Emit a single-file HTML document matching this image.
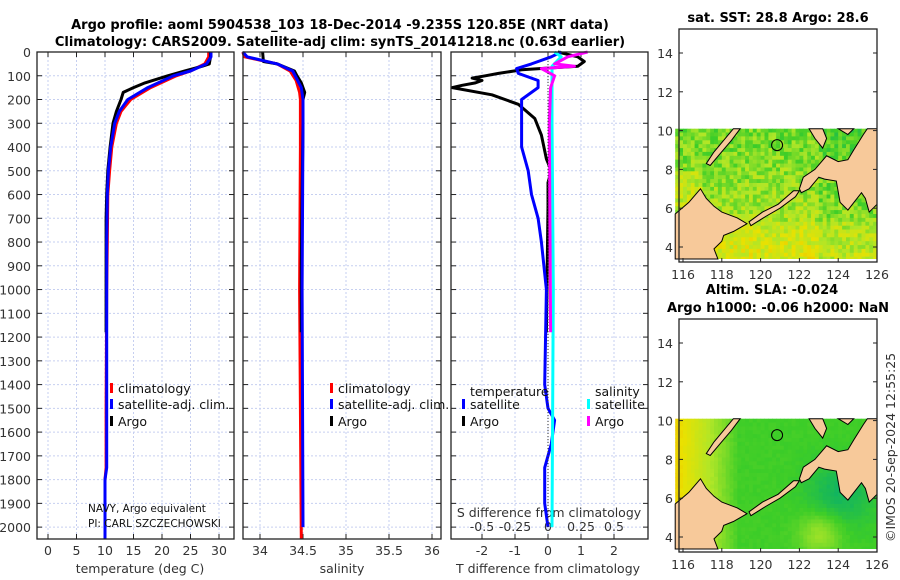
<!DOCTYPE html>
<html><head><meta charset="utf-8"><style>
body{margin:0;background:#fff;}
svg{display:block;font-family:"DejaVu Sans","Liberation Sans",sans-serif;}
.tk{font-size:12.5px;fill:#333;}
.ttl{font-size:13px;font-weight:bold;fill:#000;}
.lg{font-size:12.5px;fill:#111;}
</style></head><body>
<svg id="fig" width="900" height="580" viewBox="0 0 900 580" xmlns="http://www.w3.org/2000/svg">
<text class="ttl" x="340" y="29" text-anchor="middle">Argo profile: aoml 5904538_103 18-Dec-2014 -9.235S 120.85E (NRT data)</text>
<text class="ttl" x="340" y="46" text-anchor="middle">Climatology: CARS2009. Satellite-adj clim: synTS_20141218.nc (0.63d earlier)</text>
<g id="plots"></g>
<text class="ttl" x="778" y="22" text-anchor="middle">sat. SST: 28.8 Argo: 28.6</text>
<text class="ttl" x="772" y="294" text-anchor="middle">Altim. SLA: -0.024</text>
<text class="ttl" x="778" y="312" text-anchor="middle">Argo h1000: -0.06 h2000: NaN</text>
<text class="tk" transform="translate(895,542) rotate(-90)">©IMOS 20-Sep-2024 12:55:25</text>
</svg>
<script>
// ---- data ----
const depthTicks=[0,100,200,300,400,500,600,700,800,900,1000,1100,1200,1300,1400,1500,1600,1700,1800,1900,2000];
const tempTicks=[0,5,10,15,20,25,30];
const salTicks=[34,34.5,35,35.5,36];
const tdiffTicks=[-2,-1,0,1,2];
const sdiffTicks=[-0.5,-0.25,0,0.25,0.5];
const argoDepth=[0,20,50,60,80,100,130,150,170,200,250,300,400,500,600,700,900,1180];
const argoTemp=[28.5,28.5,28.3,27,24,21,17,15,13.2,12.8,12.0,11.4,10.9,10.5,10.3,10.2,10.2,10.2];
const climDepth=[0,20,50,80,100,150,200,250,300,400,500,600,800,1000,1500,1750,1800,2000,2050];
const climTemp=[28.2,28.2,27.5,25,22.5,18,14.5,12.8,12,11.2,10.8,10.5,10.4,10.3,10.2,10.2,10.0,10.0,10.0];
const satTemp=[28.6,28.6,27.8,25,22,17.5,14,12.5,11.7,11,10.6,10.4,10.3,10.3,10.3,10.3,10.0,10.0,10.0];
const argoSalDepth=[0,40,50,80,100,130,170,200,300,600,900,1180];
const argoSal=[34.03,34.04,34.2,34.4,34.43,34.48,34.52,34.5,34.5,34.49,34.48,34.48];
const climSalDepth=[0,20,50,80,120,170,200,400,1000,2050];
const climSal=[33.8,33.82,34.2,34.35,34.42,34.46,34.47,34.47,34.46,34.48];
const satSalDepth=[0,20,50,80,150,200,300,1000,2000];
const satSal=[33.8,33.85,34.2,34.38,34.48,34.5,34.5,34.49,34.5];
const argoTdDepth=[0,20,40,60,75,90,100,110,120,130,140,150,180,220,280,350,450,500,550,650,1180];
const argoTdiff=[0.3,0.9,1.1,0.9,-0.8,-1.5,-1.9,-2.3,-2.0,-2.2,-2.6,-2.9,-1.7,-0.9,-0.4,-0.2,-0.05,0.1,0,0,-0.05];
const satTdDepth=[0,20,50,70,90,120,150,200,300,400,500,600,700,800,1000,1400,1500,1550,1650,1750,1900,2000];
const satTdiff=[0.4,0.1,-0.5,-0.95,-0.9,-0.3,-0.3,-0.8,-0.8,-0.8,-0.6,-0.5,-0.3,-0.2,-0.05,-0.1,0.0,0.2,0.1,-0.1,-0.1,0];
const satSdDepth=[0,20,60,150,300,1000,2000];
const satSdiff=[0.05,0.1,0.03,0.03,0.03,0.04,0.03];
const argoSdDepth=[0,20,50,60,70,100,150,300,1180];
const argoSdiff=[0.3,0.15,0.05,0.2,-0.05,0.05,0.02,0.01,0.02];
// ---- axes ----
const NS="http://www.w3.org/2000/svg";
const G=document.getElementById('plots');
function mk(t,a,p){const e=document.createElementNS(NS,t);for(const k in a)e.setAttribute(k,a[k]);(p||G).appendChild(e);return e;}
const Y0=52,Y1=539;const yD=d=>Y0+d*(Y1-Y0)/2050;
const xT=v=>48+v*5.7, xS=v=>303+(v-34.5)*86, xTd=v=>548+v*33, xSd=v=>548+v*132;
function grid(x0,x1,xs){
  for(const d of depthTicks){const y=yD(d);
    const l=mk('line',{x1:x0,x2:x1,y1:y,y2:y,stroke:'#c6cff0','stroke-dasharray':'2,2','stroke-width':1});
    
    mk('line',{x1:x0,x2:x0+5,y1:y,y2:y,stroke:'#222'});mk('line',{x1:x1-5,x2:x1,y1:y,y2:y,stroke:'#222'});}
  for(const x of xs){const l=mk('line',{x1:x,x2:x,y1:Y0,y2:Y1,stroke:'#c6cff0','stroke-dasharray':'2,2'});
    
    mk('line',{x1:x,x2:x,y1:Y1-5,y2:Y1,stroke:'#222'});mk('line',{x1:x,x2:x,y1:Y0,y2:Y0+5,stroke:'#222'});}
}
function frame(x0,x1,name){const r=mk('rect',{x:x0,y:Y0,width:x1-x0,height:Y1-Y0,fill:'none',stroke:'#222','stroke-width':1.3});
  }
function txt(x,y,s,cls,anc,name){const t=mk('text',{x:x,y:y,class:cls,'text-anchor':anc||'middle'});t.textContent=s;
  return t;}
function line(xs,ds,fx,col,w,name){const p=xs.map((v,i)=>fx(v).toFixed(1)+','+yD(ds[i]).toFixed(1)).join(' ');
  const e=mk('polyline',{points:p,fill:'none',stroke:col,'stroke-width':w,'stroke-linejoin':'round'});
  }
grid(37,234,tempTicks.map(xT));grid(243,441,salTicks.map(xS));grid(451,648,tdiffTicks.map(xTd));
for(const d of depthTicks)txt(31,yD(d)+5,String(d),'tk','end','depth-tick-label');
for(const v of tempTicks)txt(xT(v),555,String(v),'tk','middle','temp-tick-label');
for(const v of salTicks)txt(xS(v),555,String(v),'tk','middle','salinity-tick-label');
for(const v of tdiffTicks)txt(xTd(v),555,String(v),'tk','middle','tdiff-tick-label');
for(const v of sdiffTicks)txt(xSd(v),531,String(v),'tk','middle','sdiff-tick-label');
txt(140,573,'temperature (deg C)','tk','middle','temperature-axis-title');
txt(342,573,'salinity','tk','middle','salinity-axis-title');
txt(548,573,'T difference from climatology','tk','middle','tdiff-axis-title');
txt(549,517,'S difference from climatology','tk','middle','sdiff-axis-title');
// profiles
line(climTemp,climDepth,xT,'#ff0000',3,'temp-climatology-line');
line(argoTemp,argoDepth,xT,'#000',3,'temp-argo-line');
line(satTemp,climDepth,xT,'#0000ff',3,'temp-satellite-line');
line(climSal,climSalDepth,xS,'#ff0000',3,'sal-climatology-line');
line(argoSal,argoSalDepth,xS,'#000',3,'sal-argo-line');
line(satSal,satSalDepth,xS,'#0000ff',3,'sal-satellite-line');
line(argoTdiff,argoTdDepth,xTd,'#000',3,'tdiff-argo-line');
line(satTdiff,satTdDepth,xTd,'#0000ff',3,'tdiff-satellite-line');
line(satSdiff,satSdDepth,xSd,'#00ffff',3,'sdiff-satellite-line');
line(argoSdiff,argoSdDepth,xSd,'#ff00ff',3,'sdiff-argo-line');
{const z=mk('line',{x1:xTd(0),x2:xTd(0),y1:Y0,y2:yD(2000),stroke:'#333','stroke-dasharray':'1,2'});}
frame(37,234,'temperature-panel');frame(243,441,'salinity-panel');frame(451,648,'difference-panel');
// legends
function leg(x,y,col,s,name){const r=mk('rect',{x:x,y:y-9,width:3,height:10,fill:col});txt(x+8,y+1,s,'lg','start',name);}
leg(110,392,'#ff0000','climatology','legend-climatology');leg(110,408,'#0000ff','satellite-adj. clim.','legend-satellite');leg(110,425,'#000','Argo','legend-argo');
leg(330,392,'#ff0000','climatology','legend-sal-climatology');leg(330,408,'#0000ff','satellite-adj. clim.','legend-sal-satellite');leg(330,425,'#000','Argo','legend-sal-argo');
txt(470,396,'temperature','lg','start','legend-temperature-heading');txt(595,396,'salinity','lg','start','legend-salinity-heading');
leg(462,408,'#0000ff','satellite','legend-tdiff-satellite');leg(462,425,'#000','Argo','legend-tdiff-argo');
leg(587,408,'#00ffff','satellite','legend-sdiff-satellite');leg(587,425,'#ff00ff','Argo','legend-sdiff-argo');
txt(88,512,'NAVY, Argo equivalent','lg','start','pi-institution').setAttribute('style','font-size:10.5px');
txt(88,527,'PI: CARL SZCZECHOWSKI','lg','start','pi-name').setAttribute('style','font-size:10.5px');
// ---- maps ----
const lonTicks=[116,118,120,122,124,126], latTicks=[4,6,8,10,12,14];
const land=[
[[115.6,5.7],[116.3,6.3],[116.9,7.0],[117.2,6.5],[117.6,6.1],[118.0,5.8],[118.8,5.5],[119.3,5.2],[118.6,4.8],[118.1,4.6],[118.0,4.3],[117.6,3.9],[117.8,3.3],[115.6,3.3]],
[[118.6,10.1],[118.95,10.1],[118.5,9.5],[117.9,8.8],[117.4,8.2],[117.2,8.3],[117.6,8.9],[118.1,9.5]],
[[122.0,7.0],[122.2,7.6],[122.8,8.0],[123.4,8.7],[124.0,8.4],[124.5,8.5],[124.8,9.0],[125.3,9.8],[125.5,10.1],[126,10.1],[126,6.2],[125.6,5.8],[125.4,6.5],[125.2,6.8],[124.5,5.9],[124.1,6.3],[123.9,7.4],[123.3,7.5],[123.0,7.6],[122.5,7.0],[122.1,6.8]],
[[122.5,10.1],[122.8,9.6],[123.2,9.1],[123.4,9.6],[123.2,10.1]],
[[124.0,10.1],[124.5,9.8],[124.8,10.1]],
[[119.5,5.1],[120.3,5.6],[121.0,6.0],[121.8,6.6],[122.0,6.9],[121.7,6.9],[120.9,6.2],[120.1,5.8],[119.4,5.3]]];
function hash(i,j){let h=(i*374761393+j*668265263)>>>0;h=((h^(h>>>13))*1274126177)>>>0;return (h%1000)/1000;}
function colSST(v){const st=[[0,[240,140,0]],[0.25,[235,225,0]],[0.5,[175,230,40]],[0.75,[60,205,40]],[1,[0,170,120]]];
  v=Math.max(0,Math.min(1,v));for(let k=1;k<st.length;k++){if(v<=st[k][0]){const a=st[k-1],b=st[k],t=(v-a[0])/(b[0]-a[0]);return 'rgb('+a[1].map((c,n)=>Math.round(c+(b[1][n]-c)*t)).join(',')+')';}}}
function map(top,bot,mode,name){
  const X0=679,X1=877; const fx=l=>877-(126-l)*19.4; const fy=la=>top+24+(14-la)*19.4;
  const g=mk('g',{});
  mk('rect',{x:X0,y:top,width:X1-X0,height:bot-top,fill:'#fff'},g);
  const step=0.2,ytop=fy(10.1),ybot=bot-3;
  for(let la=10.1;fy(la)<ybot;la-=step){for(let lo=115.6;lo<126;lo+=step){
    const i=Math.round(lo*5),j=Math.round(la*5);let v;
    if(mode===0){v=0.52+0.12*(la-6)/4+0.08*(lo>123?1:0)+(hash(i,j)-0.5)*0.3; if(la<5.5)v-=0.1; if(lo<117&&la<8&&la>6)v-=0.12;}
    else{v=0.74-0.5*Math.max(0,(118.8-lo)/3)+0.18*Math.exp(-((lo-124)**2+(la-6.3)**2)/3)-0.22*Math.exp(-((lo-123)**2+(la-4.3)**2)/1.2)+(hash(i,j)-0.5)*0.03;}
    const y=fy(la),h=Math.min(step*19.4+0.5,ybot-y);
    mk('rect',{x:fx(lo).toFixed(1),y:y.toFixed(1),width:(step*19.4+0.5).toFixed(1),height:h.toFixed(1),fill:colSST(v)},g);}}
  for(const p of land){const pts=p.map(q=>fx(q[0]).toFixed(1)+','+Math.min(ybot,Math.max(ytop,fy(q[1]))).toFixed(1)).join(' ');
    mk('polygon',{points:pts,fill:'#f7c99a',stroke:'#000','stroke-width':1},g);}
  mk('circle',{cx:fx(120.85),cy:fy(9.25),r:5.5,fill:'none',stroke:'#000','stroke-width':1},g);
  mk('rect',{x:X0,y:top,width:X1-X0,height:bot-top,fill:'none',stroke:'#222','stroke-width':1.3},g);
  for(const l of lonTicks){const x=fx(l);mk('line',{x1:x,x2:x,y1:bot-4,y2:bot,stroke:'#222'},g);txt(x,bot+17,String(l),'tk','middle','longitude-tick-label');}
  for(const la of latTicks){const y=fy(la);mk('line',{x1:X1-4,x2:X1,y1:y,y2:y,stroke:'#222'},g);mk('line',{x1:X0,x2:X0+4,y1:y,y2:y,stroke:'#222'},g);txt(673,y+5,String(la),'tk','end','latitude-tick-label');}
}
map(29,262,0,'sst-map');map(319,552,1,'sla-map');
</script>
</body></html>
